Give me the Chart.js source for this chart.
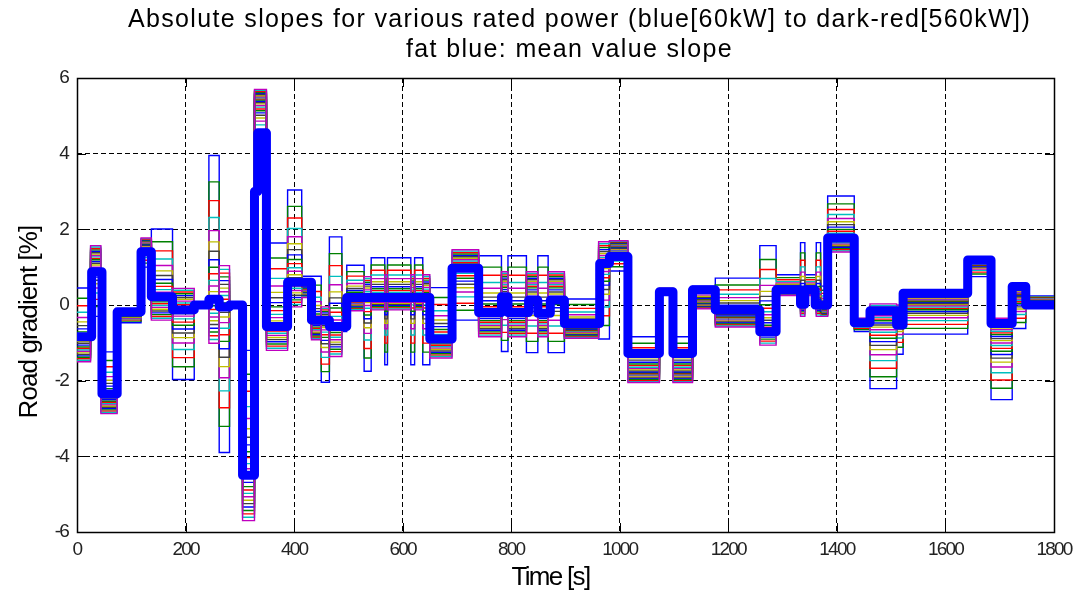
<!DOCTYPE html>
<html>
<head>
<meta charset="utf-8">
<script src="https://cdn.jsdelivr.net/npm/chart.js@4.4.1/dist/chart.umd.min.js"></script>
<style>
  html, body { margin: 0; padding: 0; background: #fff; }
  #wrap { width: 1076px; height: 594px; }
</style>
</head>
<body>
<div id="wrap"><canvas id="grafico" width="1076" height="594"></canvas></div>
<script>
// Rated powers [kW], one step line each
const ratedPower = [60, 80, 100, 120, 140, 160, 180, 200, 220, 240, 260, 280, 300,
                    320, 340, 360, 380, 400, 420, 440, 460, 480, 500, 520, 540, 560];

// Where each power's line sits between the 60kW and 560kW line (1 = 60kW, 0 = 560kW)
const powerShare = [1.00, 0.86, 0.76, 0.67, 0.60, 0.54, 0.49, 0.445, 0.405, 0.37, 0.335, 0.305, 0.275,
                    0.25, 0.225, 0.20, 0.18, 0.16, 0.14, 0.12, 0.10, 0.08, 0.06, 0.04, 0.02, 0.00];

// Segment start times [s] and slopes [%] of the 60kW and 560kW vehicles
const segTime = [0, 25, 44, 74, 118, 137, 176, 216, 243, 262, 281, 305, 327, 349, 388, 414, 432, 450,
                 465, 488, 497, 529, 542, 567, 572, 615, 622, 637, 650, 691, 740, 782, 794, 828, 849,
                 868, 898, 961, 981, 1015, 1073, 1098, 1134, 1176, 1258, 1288, 1333, 1341, 1362, 1370,
                 1383, 1432, 1461, 1510, 1522, 1641, 1684, 1723, 1748];
const slope60kW = [0.45, -0.3, -1.24, -0.47, 1.0, 2.01, -1.97, 0.05, 3.95, -3.9, 0.0, -1.2, 4.3, 1.64,
                   3.04, 0.76, 0.76, -2.04, 1.8, -0.7, 1.05, -1.75, 1.25, -1.58, 1.25, -1.58, 1.25, -1.58,
                   0.46, -0.4, 1.3, -1.23, 1.3, -1.26, 1.3, -1.26, 0.16, -0.9, 0.9, -0.84, 0.3, -0.84,
                   0.5, 0.71, 1.57, 0.8, 1.65, 0.8, 1.65, 0.5, 2.88, -0.7, -2.21, -1.3, -0.77, 0.75,
                   -2.5, -0.62, 0.24];
const slope560kW = [-1.5, 1.57, -2.87, -0.15, 1.77, -0.4, 0.44, -0.05, -1.01, 1.04, 0.05, -5.7, 5.7, -1.2,
                    -0.05, 0.2, -0.92, -0.05, -1.36, -0.5, -0.15, 0.75, -0.13, 0.8, -0.13, 0.8, -0.13, 0.8,
                    -1.4, 1.46, -0.84, 0.88, -0.84, 0.88, -0.84, 0.88, -0.88, 1.67, 1.7, -2.05, 0.44, -2.05,
                    -0.1, -0.58, -1.06, 0.25, -0.3, 0.25, -0.3, -0.3, 1.4, -0.35, 0.03, 0.0, 0.31, 1.25,
                    -0.35, 0.5, 0.0];

// Mean value slope (fat blue line)
const meanTime = [0, 27, 46, 74, 118, 137, 176, 216, 243, 262, 281, 305, 327, 333, 349, 388, 432, 465,
                  497, 650, 691, 740, 782, 794, 832, 849, 872, 898, 963, 981, 1015, 1073, 1098, 1134,
                  1176, 1258, 1288, 1333, 1341, 1360, 1383, 1432, 1461, 1510, 1522, 1641, 1684, 1723, 1748];
const meanSlope = [-0.84, 0.88, -2.35, -0.18, 1.41, 0.22, -0.13, 0.0, 0.15, -0.05, 0.0, -4.5, 3.0, 4.55,
                   -0.57, 0.6, -0.4, -0.57, 0.2, -0.9, 0.97, -0.2, 0.22, -0.2, 0.13, -0.22, 0.13, -0.49,
                   1.1, 1.28, -1.28, 0.35, -1.28, 0.4, -0.13, -0.71, 0.4, 0.02, 0.4, 0.0, 1.77, -0.47,
                   -0.15, -0.53, 0.31, 1.19, -0.49, 0.49, 0.0];

const endTime = 1800;
const timeTicks = [0, 200, 400, 600, 800, 1000, 1200, 1400, 1600, 1800];
const slopeTicks = [-6, -4, -2, 0, 2, 4, 6];
const titleLines = ['Absolute slopes for various rated power (blue[60kW] to dark-red[560kW])',
                    'fat blue: mean value slope'];
const xTitle = 'Time [s]';
const yTitle = 'Road gradient [%]';

// matlab colour order b g r c m y k
const lineColors = ['#0000ff', '#008000', '#ff0000', '#00bfbf', '#bf00bf', '#bfbf00', '#404040'];

const FONT = '"Liberation Sans", Arial, sans-serif';

function stepPoints(times, values) {
    const pts = times.map((t, i) => ({ x: t, y: values[i] }));
    pts.push({ x: endTime, y: values[values.length - 1] });
    return pts;
}

const datasets = [];
ratedPower.forEach((p, k) => {
    const vals = slope60kW.map((v, i) => slope560kW[i] + (v - slope560kW[i]) * powerShare[k]);
    datasets.push({
        label: p + 'kW',
        data: stepPoints(segTime, vals),
        stepped: 'before',
        borderColor: lineColors[k % lineColors.length],
        borderWidth: 1.4,
        pointRadius: 0,
        fill: false,
        order: ratedPower.length - k
    });
});
datasets.push({
    label: 'mean',
    data: stepPoints(meanTime, meanSlope),
    stepped: 'before',
    borderColor: '#0000ff',
    borderWidth: 9,
    borderJoinStyle: 'round',
    borderCapStyle: 'round',
    pointRadius: 0,
    fill: false,
    order: 0
});

function spacedText(ctx, text, x, y, size, spacing, angle) {
    ctx.save();
    ctx.letterSpacing = spacing + 'px';
    ctx.fillStyle = '#000';
    ctx.font = size + 'px ' + FONT;
    ctx.textAlign = 'center';
    ctx.textBaseline = 'middle';
    ctx.translate(x, y);
    if (angle) ctx.rotate(angle);
    ctx.fillText(text, 0, 0);
    ctx.restore();
}

// tick labels are set tight; title and axis labels drawn on top
const textSpacing = {
    id: 'textSpacing',
    beforeDraw(chart) {
        chart.ctx.letterSpacing = '-1.8px';
    },
    afterDraw(chart) {
        const { ctx, chartArea: a } = chart;
        const cx = (a.left + a.right) / 2;
        spacedText(ctx, titleLines[0], cx + 14, 20, 25, 1.35, 0);
        spacedText(ctx, titleLines[1], cx + 4, 50, 25, 1.35, 0);
        spacedText(ctx, xTitle, cx - 15, 578, 26, -1.7, 0);
        spacedText(ctx, yTitle, 30, 322, 26, -0.9, -Math.PI / 2);
    }
};

// solid frame and inward ticks, like the matlab axes box
const axesBox = {
    id: 'axesBox',
    beforeDatasetsDraw(chart) {
        const { ctx, chartArea: a, scales } = chart;
        ctx.save();
        ctx.strokeStyle = '#000';
        ctx.lineWidth = 1;
        ctx.beginPath();
        timeTicks.forEach(t => {
            const x = Math.round(scales.x.getPixelForValue(t)) + 0.5;
            ctx.moveTo(x, a.bottom); ctx.lineTo(x, a.bottom - 9);
            ctx.moveTo(x, a.top); ctx.lineTo(x, a.top + 9);
        });
        slopeTicks.forEach(v => {
            const y = Math.round(scales.y.getPixelForValue(v)) + 0.5;
            ctx.moveTo(a.left, y); ctx.lineTo(a.left + 9, y);
            ctx.moveTo(a.right, y); ctx.lineTo(a.right - 9, y);
        });
        ctx.stroke();
        ctx.lineWidth = 1.5;
        ctx.strokeRect(Math.round(a.left) + 0.5, Math.round(a.top) + 0.5,
                       Math.round(a.right - a.left), Math.round(a.bottom - a.top));
        ctx.restore();
    }
};

const gridColor = (c) => (c.index === 0 || c.index === c.scale.ticks.length - 1) ? 'rgba(0,0,0,0)' : '#000';

new Chart(document.getElementById('grafico').getContext('2d'), {
    type: 'line',
    data: { datasets: datasets },
    options: {
        responsive: false,
        animation: false,
        devicePixelRatio: 1,
        layout: { padding: { left: 0, right: 22, top: 78, bottom: 0 } },
        plugins: {
            legend: { display: false },
            tooltip: { enabled: false },
            title: { display: false }
        },
        scales: {
            x: {
                type: 'linear',
                min: 0,
                max: endTime,
                afterBuildTicks: (s) => { s.ticks = timeTicks.map(v => ({ value: v })); },
                afterFit: (s) => { s.height = 62; s.paddingLeft = 0; s.paddingRight = 0; },
                ticks: {
                    color: '#222', padding: 6, font: { family: FONT, size: 19 },
                    callback: (v) => String(v)
                },
                grid: { color: gridColor, lineWidth: 1, drawTicks: false },
                border: { display: false, dash: [5, 3] }
            },
            y: {
                type: 'linear',
                min: -6,
                max: 6,
                afterBuildTicks: (s) => { s.ticks = slopeTicks.map(v => ({ value: v })); },
                afterFit: (s) => { s.width = 77; s.paddingTop = 0; s.paddingBottom = 0; },
                ticks: { color: '#222', padding: 9, font: { family: FONT, size: 19 } },
                grid: { color: gridColor, lineWidth: 1, drawTicks: false },
                border: { display: false, dash: [5, 3] }
            }
        }
    },
    plugins: [axesBox, textSpacing]
});
</script>
</body>
</html>
